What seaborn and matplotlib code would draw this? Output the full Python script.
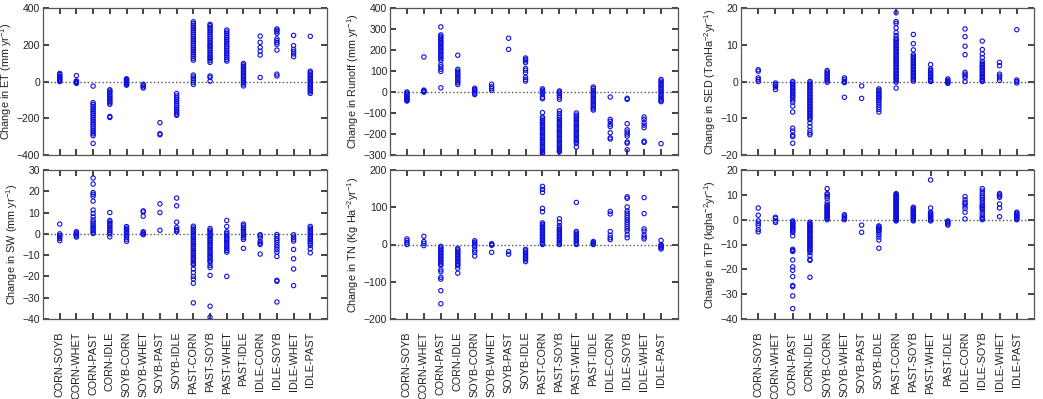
import matplotlib
matplotlib.use("Agg")
import matplotlib.pyplot as plt
import seaborn as sns
import pandas as pd

CATS = ['CORN-SOYB', 'CORN-WHET', 'CORN-PAST', 'CORN-IDLE', 'SOYB-CORN', 'SOYB-WHET',
        'SOYB-PAST', 'SOYB-IDLE', 'PAST-CORN', 'PAST-SOYB', 'PAST-WHET', 'PAST-IDLE',
        'IDLE-CORN', 'IDLE-SOYB', 'IDLE-WHET', 'IDLE-PAST']

# values per category, in CATS order
ET = [
    [0, 5, 10, 15, 20, 25, 30, 38, 44],
    [32, 3, 0, -3, -6, -10],
    [-25, -115, -125, -135, -145, -155, -165, -175, -185, -195, -205, -215, -225, -235, -245, -255, -265, -275, -285, -295, -337],
    [-45, -52, -60, -68, -76, -84, -92, -100, -108, -116, -124, -190, -196],
    [-20, -15, -10, -5, 0, 5, 10, 15],
    [-15, -22, -30, -35],
    [-224, -284, -290],
    [-65, -78, -90, -100, -110, -120, -130, -140, -150, -160, -170, -178, -184],
    [116, 126, 136, 146, 156, 166, 176, 186, 196, 206, 216, 226, 236, 246, 256, 266, 276, 286, 296, 306, 316, 325, 35, 25, 15, 5, -5, -16],
    [104, 114, 124, 131, 140, 150, 160, 170, 180, 190, 196, 205, 215, 225, 235, 245, 255, 265, 275, 285, 295, 305, 311, 30, 22, 2],
    [111, 120, 130, 140, 150, 160, 170, 180, 190, 200, 210, 220, 230, 240, 250, 260, 270, 280],
    [98, 90, 82, 74, 66, 58, 50, 42, 34, 26, 18, 10, 2, -6, -14, -24],
    [247, 213, 185, 165, 144, 22],
    [286, 280, 272, 262, 232, 222, 212, 202, 171, 40, 30],
    [251, 195, 175, 162, 150, 135],
    [246, 56, 48, 40, 32, 24, 16, 8, 0, -8, -16, -24, -32, -40, -48, -56, -65],
]

SW = [
    [4.6, 0, -0.8, -1.5, -2.2, -3.2],
    [1, 0.5, 0, -0.5, -1, -1.5],
    [26.2, 23.4, 19.4, 18.6, 17.7, 15.4, 11.2, 9.6, 8.0, 6.6, 5.6, 4.8, 4.0, 3.2, 2.4, 1.6, 0.8, 0.2],
    [10, 6.3, 5.6, 4.8, 4.0, 3.2, 2.4, 1.6, 0.8, 0, -1.4],
    [3.4, 2.7, 2.0, 1.3, 0.6, 0, -0.7, -1.5, -2.5, -3.5],
    [10.8, 10.3, 8.3, 1.0, 0.5, 0, -0.4],
    [14.1, 10, 1.7],
    [16.8, 13.2, 5.5, 3, 2, 1.4, 1],
    [3.6, 2.8, 2.0, 1.2, 0.4, -0.4, -1.2, -2.0, -2.8, -3.6, -4.4, -5.2, -6.0, -6.8, -7.6, -8.4, -9.2, -10.0, -10.8, -11.6, -12.4, -13.2, -14.0, -14.6, -16.5, -18.2, -20, -21.2, -23.2, -32.4],
    [2.5, 1.7, 0.9, 0.1, -0.7, -1.5, -2.3, -3.1, -3.9, -4.7, -5.5, -6.3, -7.1, -7.9, -8.7, -9.5, -10.3, -11.1, -11.9, -12.7, -13.3, -14.8, -15.8, -19.5, -34, -39.2],
    [6.3, 3.5, 1.0, 0.2, -0.6, -1.4, -2.2, -3.0, -3.8, -4.6, -5.4, -6.2, -7.0, -7.8, -8.6, -20],
    [4.6, 3.8, 3.0, 2.2, 1.4, 0.6, -0.2, -1.0, -1.8, -2.6, -6.8],
    [-0.4, -1, -2, -3.6, -4.4, -5, -9.5],
    [-0.3, -1.2, -2.2, -3, -4, -5.2, -6.2, -7.4, -8.6, -10.6, -21.8, -22.3, -32],
    [-0.4, -1.5, -2.5, -3.4, -7.3, -11.7, -16.5, -24.3],
    [3.5, 2.7, 1.9, 1.1, 0.3, -0.5, -1.3, -2.1, -2.9, -3.7, -4.5, -5.5, -7, -8.9],
]

RUNOFF = [
    [0, -5, -10, -15, -20, -25, -30, -35, -40, -43],
    [167, 9, 5, 2, -1],
    [310, 272, 265, 258, 250, 243, 236, 228, 220, 212, 205, 198, 190, 182, 174, 166, 158, 150, 130, 120, 108, 98, 20],
    [175, 108, 100, 92, 84, 76, 68, 60, 52, 44, 36],
    [18, 12, 6, 0, -6, -12],
    [37, 25, 17, 8],
    [256, 203],
    [162, 155, 148, 140, 112, 104, 92, 70, 60, 52],
    [15, 9, 3, -3, -10, -25, -32, -98, -120, -128, -136, -144, -152, -160, -168, -176, -184, -192, -200, -208, -216, -224, -232, -240, -248, -256, -264, -272, -280, -288, -293],
    [5, 0, -6, -15, -25, -35, -90, -102, -114, -122, -130, -138, -146, -154, -162, -170, -178, -186, -194, -202, -210, -218, -226, -234, -242, -250, -258, -266, -274, -280, -285],
    [-100, -110, -118, -126, -134, -142, -150, -158, -166, -174, -182, -190, -198, -206, -214, -222, -230, -238, -245, -262],
    [24, 16, 8, 0, -8, -16, -24, -32, -40, -48, -56, -64, -72, -80, -86],
    [-24, -130, -140, -155, -165, -194, -218, -224],
    [-30, -35, -151, -180, -190, -200, -210, -238, -244, -275],
    [-119, -130, -145, -158, -170, -234, -240],
    [60, 52, 44, 36, 28, 20, 12, 4, -4, -12, -20, -28, -36, -42, -46, -246],
]

TN = [
    [15, 10, 5, 0],
    [22, 8, 3, -3],
    [-5, -9, -13, -17, -21, -25, -29, -33, -37, -41, -45, -49, -53, -56, -68, -73, -88, -93, -124, -159],
    [-10, -14, -18, -22, -26, -30, -34, -38, -42, -46, -50, -54, -57, -64, -77],
    [10, 6, 2, -2, -6, -15, -21, -31],
    [2, 0, -2, -21],
    [-19, -26],
    [-13, -17, -21, -25, -29, -33, -37, -41, -46],
    [156, 148, 140, 97, 88, 58, 54, 50, 46, 42, 38, 34, 30, 26, 22, 18, 14, 10, 6, 2, 0],
    [69, 60, 51, 45, 41, 37, 33, 29, 25, 21, 17, 13, 9, 5, 1, 0],
    [113, 35, 31, 27, 23, 19, 15, 11, 7, 3, 0],
    [8, 5, 2, 0],
    [89, 82, 35, 25, 18, 13],
    [128, 124, 101, 90, 84, 78, 72, 66, 60, 54, 48, 42, 36, 26, 18],
    [126, 83, 42, 36, 26, 20, 15],
    [11, 0, -3, -6, -9, -12],
]

SED = [
    [3.2, 2.8, 1.0, 0.5, 0],
    [-0.4, -0.8, -1.2, -1.5, -2.2],
    [0, -0.4, -0.8, -1.2, -1.6, -2.0, -2.4, -2.8, -3.2, -3.6, -4.0, -4.4, -5, -5.6, -6.7, -8.3, -12.7, -13.5, -14.6, -15, -16.8],
    [0, -0.4, -0.8, -1.2, -1.6, -2.0, -2.4, -2.8, -3.2, -3.6, -4.0, -4.4, -4.8, -5.2, -5.6, -6.0, -6.4, -6.8, -7.2, -7.6, -8.0, -8.4, -8.8, -9.2, -9.6, -10.0, -10.4, -11.3, -12.3, -13.3, -14, -14.5],
    [3.0, 2.6, 2.2, 1.8, 1.4, 1.0, 0.6, 0.2, -0.2],
    [1, 0.5, 0, -0.3, -4.3],
    [-1.2, -4.6],
    [-2.0, -2.4, -2.8, -3.2, -3.6, -4.0, -4.4, -4.8, -5.2, -5.8, -6.4, -7.0, -7.6, -8.3],
    [18.7, 16.3, 15.8, 14.6, 13.3, 12.5, 11.8, 11.4, 11.0, 10.6, 10.2, 9.8, 9.4, 9.0, 8.6, 8.2, 7.8, 7.4, 7.0, 6.6, 6.2, 5.8, 5.4, 5.0, 4.6, 4.2, 3.8, 3.4, 3.0, 2.6, 2.2, 1.8, 1.4, 1.0, 0.6, 0.2, -0.2, -1.8],
    [12.8, 10.3, 8.6, 7.3, 6.9, 6.5, 6.1, 5.7, 5.3, 4.9, 4.5, 4.1, 3.7, 3.3, 2.9, 2.5, 2.1, 1.7, 1.3, 0.9, 0.5, 0.1],
    [4.6, 3.4, 3.0, 2.6, 2.2, 1.8, 1.4, 1.0, 0.6, 0.2, 0],
    [0.7, 0.3, 0, -0.3, -0.5],
    [14.3, 12.2, 9.6, 7.3, 2.5, 2, 1.5, 1, 0],
    [11, 8.7, 7.5, 6.5, 5.5, 5.0, 4.6, 4.2, 3.8, 3.4, 3.0, 2.6, 2.2, 1.8, 1.4, 1.0, 0.6, 0.2, 0],
    [5.2, 4.3, 2, 1.5, 1, 0.3],
    [14.1, 0.4, 0, -0.4],
]

TP = [
    [4.7, 1.8, -0.5, -1.5, -2.4, -4, -4.9],
    [1, 0.5, -0.5, -1.1],
    [-0.5, -0.9, -1.3, -1.7, -2.1, -2.5, -2.9, -3.3, -3.7, -4.1, -4.5, -5.1, -6.5, -11.9, -12.4, -12.8, -16.2, -19, -20.4, -22.9, -26.5, -27, -30.7, -35.8],
    [-1, -1.5, -2, -2.5, -3, -3.5, -4, -4.5, -5, -5.5, -6, -6.5, -7, -7.5, -8, -8.5, -9, -9.5, -10, -10.5, -11, -11.5, -12, -12.5, -13.2, -14.5, -16, -16.4, -23.2],
    [12.5, 10.5, 10, 9.3, 8.5, 7, 6, 5.6, 5.2, 4.8, 4.4, 4.0, 3.6, 3.2, 2.8, 2.4, 2.0, 1.6, 1.2, 0.8, 0.4, 0],
    [2, 1.5, 1, 0.5, 0],
    [-2.2, -5.1],
    [-2.5, -2.9, -3.3, -3.7, -4.1, -4.5, -5.0, -6, -7, -8.2, -11.5],
    [10.5, 10.1, 9.7, 9.3, 8.9, 8.5, 8.1, 7.7, 7.3, 6.9, 6.5, 6.1, 5.7, 5.3, 4.9, 4.5, 4.1, 3.7, 3.3, 2.9, 2.5, 2.1, 1.7, 1.3, 0.9, 0.5, 0.1, -0.3, -0.5],
    [5.0, 4.6, 4.2, 3.8, 3.4, 3.0, 2.6, 2.2, 1.8, 1.4, 1.0, 0.6, 0.2, -0.2, -0.5],
    [16, 4.7, 3.0, 2.6, 2.2, 1.8, 1.4, 1.0, 0.6, 0.2, -0.2, -0.5],
    [-0.5, -0.9, -1.3, -1.7, -2.2],
    [9.3, 8, 7, 6.5, 5.5, 4.5, 3, 0.3],
    [12.5, 11.5, 10.5, 9.5, 8.8, 8, 7, 6, 5.5, 5, 4.5, 4, 3, 2, 1, 0.5, 0],
    [10.5, 10, 9.5, 9, 6.3, 4.7, 1.2],
    [3, 2.6, 2.2, 1.8, 1.4, 1, 0.6, 0.2, 0],
]

YLABELS = ['Change in ET (mm yr$^{-1}$)', 'Change in Runoff (mm yr$^{-1}$)',
           'Change in SED (TonHa$^{-2}$yr$^{-1}$)', 'Change in SW (mm yr$^{-1}$)',
           'Change in TN (Kg Ha$^{-2}$yr$^{-1}$)', 'Change in TP (kgha$^{-2}$yr$^{-1}$)']
YLIMS = [(-400, 400), (-300, 400), (-20, 20), (-40, 30), (-200, 200), (-40, 20)]
YSTEPS = [200, 100, 10, 10, 100, 10]

sns.set_style('ticks', {'xtick.direction': 'in', 'ytick.direction': 'in'})
plt.rcParams['font.family'] = ['Liberation Sans', 'DejaVu Sans']
plt.rcParams['mathtext.fontset'] = 'custom'
plt.rcParams['mathtext.rm'] = 'Liberation Sans'
plt.rcParams['mathtext.it'] = 'Liberation Sans'

fig = plt.figure(figsize=(10.43, 3.99), dpi=100)
W, H = 1043, 399
cols = [(43, 327), (390, 678), (741, 1034)]
rows = [(8, 155), (170, 319)]

datasets = [ET, RUNOFF, SED, SW, TN, TP]
for i, data in enumerate(datasets):
    r, c = divmod(i, 3)
    x0, x1 = cols[c]
    y0, y1 = rows[r]
    ax = fig.add_axes([x0 / W, 1 - y1 / H, (x1 - x0) / W, (y1 - y0) / H])
    recs = [(cat, v) for cat, vals in zip(CATS, data) for v in vals]
    df = pd.DataFrame(recs, columns=['transition', 'value'])
    ax.axhline(0, color='#555555', ls=':', lw=1.0, zorder=1)
    sns.stripplot(data=df, x='transition', y='value', order=CATS, jitter=False,
                  color='blue', size=3.1, linewidth=0.6, ax=ax, zorder=3)
    for coll in ax.collections:
        coll.set_facecolor('none')
        coll.set_edgecolor('#1010dd')
        coll.set_linewidth(0.8)
    lo, hi = YLIMS[i]
    ax.set_ylim(lo, hi)
    ax.set_yticks(list(range(lo, hi + 1, YSTEPS[i])))
    ax.set_xlim(-1, 16)
    ax.set_xticks(range(len(CATS)))
    ax.set_xlabel('')
    ax.set_ylabel(YLABELS[i], fontsize=7.8, color='#222222', labelpad=2)
    ax.tick_params(direction='in', top=True, right=True, bottom=True, left=True,
                   length=4.5, width=1.2, colors='#222222', labelcolor='#222222',
                   labelsize=7.5)
    ax.tick_params(axis='y', pad=2)
    if r == 0:
        ax.set_xticklabels([])
    else:
        ax.set_xticklabels(CATS, rotation=90, fontsize=7.8, color='#222222')
        ax.tick_params(axis='x', pad=9)
    for sp in ax.spines.values():
        sp.set_visible(True)
        sp.set_color('#555555')
        sp.set_linewidth(0.9)

fig.savefig('out.png', dpi=100, facecolor='white')
